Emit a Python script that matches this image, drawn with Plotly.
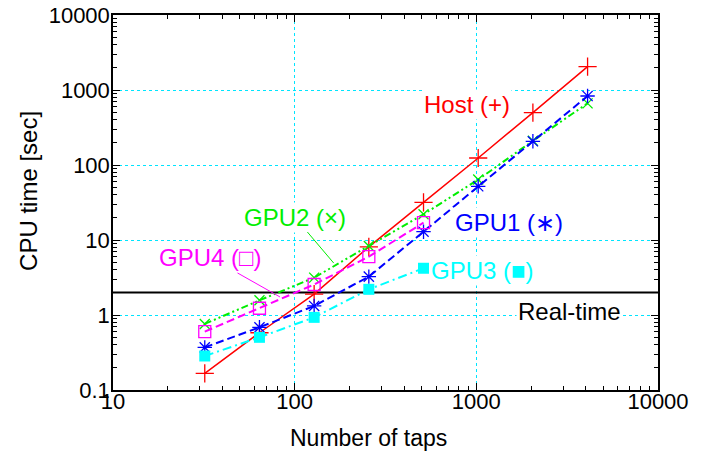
import math
import plotly.graph_objects as go

# ---- data ----
taps = [32, 64, 128, 256, 512, 1024, 2048, 4096]
host = [0.167, 0.58, 1.9, 8.1, 31.8, 124, 500, 2050]
gpu1 = [0.37, 0.685, 1.32, 3.25, 12.9, 52, 207, 832]
gpu2 = [0.76, 1.57, 3.15, 8.3, 22, 64, 210, 664]
taps_short = [32, 64, 128, 256, 512]
gpu3 = [0.284, 0.504, 0.93, 2.2, 4.2]
gpu4 = [0.6, 1.23, 2.55, 6.0, 17.0]
realtime = 2.0
x_range = [10, 10000]
y_range = [0.1, 10000]
x_ticks = [10, 100, 1000, 10000]
x_ticklabels = ["10", "100", "1000", "10000"]
y_ticks = [0.1, 1, 10, 100, 1000, 10000]
y_ticklabels = ["0.1", "1", "10", "100", "1000", "10000"]
minor_mult = [2, 3, 4, 5, 6, 7, 8, 9]

FONT = "Liberation Sans, Arial, Helvetica, sans-serif"


def minor_vals(majors):
    return [m * d for d in majors[:-1] for m in minor_mult]


fig = go.Figure()

fig.add_trace(go.Scatter(x=x_range, y=[realtime, realtime], mode="lines",
                         line=dict(color="black", width=2), showlegend=False))

fig.add_trace(go.Scatter(x=taps, y=host, mode="lines+markers",
                         line=dict(color="#ff0000", width=1.5),
                         marker=dict(symbol="cross-thin", size=13,
                                     line=dict(color="#ff0000", width=1.3)),
                         showlegend=False))
fig.add_trace(go.Scatter(x=taps, y=gpu2, mode="lines+markers",
                         line=dict(color="#00ee00", width=2,
                                   dash="7px,3px,2px,3px,2px,3px"),
                         marker=dict(symbol="x-thin", size=10,
                                     line=dict(color="#00ee00", width=1.3)),
                         showlegend=False))
fig.add_trace(go.Scatter(x=taps, y=gpu1, mode="lines+markers",
                         line=dict(color="#0000ff", width=2, dash="8px,4px"),
                         marker=dict(symbol="asterisk-open", size=12,
                                     line=dict(color="#0000ff", width=1.3)),
                         showlegend=False))
fig.add_trace(go.Scatter(x=taps_short, y=gpu4, mode="lines+markers",
                         line=dict(color="#ff00ff", width=2, dash="8px,4px"),
                         marker=dict(symbol="square-open", size=12,
                                     line=dict(color="#ff00ff", width=1.3)),
                         showlegend=False))
fig.add_trace(go.Scatter(x=taps_short, y=gpu3, mode="lines+markers",
                         line=dict(color="#00ffff", width=2,
                                   dash="9px,4px,2px,4px"),
                         marker=dict(symbol="square", size=11, color="#00ffff"),
                         showlegend=False))

ann_font = 24


def ann(text, x, y, color, **kw):
    d = dict(text=text, x=math.log10(x), y=math.log10(y), xref="x", yref="y",
             showarrow=False, font=dict(family=FONT, size=ann_font, color=color),
             bgcolor="white", borderpad=1)
    d.update(kw)
    fig.add_annotation(**d)


ann("Host (+)", 887, 650, "#ff0000")
ann("GPU1 (∗)", 1510, 16.9, "#0000ff")
ann("GPU3 (■)", 1075, 3.98, "#00ffff")
ann("Real-time", 3270, 1.13, "black")
# labels with leader lines (arrow head at the point on the curve)
ann("GPU2 (×)", 164, 4.93, "#00ee00", showarrow=True, arrowhead=0,
    arrowwidth=1, arrowcolor="#00ee00", ax=-39, ay=-46)
ann("GPU4 (□)", 83, 1.74, "#ff00ff", showarrow=True, arrowhead=0,
    arrowwidth=1, arrowcolor="#ff00ff", ax=-69, ay=-39)

# axis titles
fig.add_annotation(text="Number of taps", xref="paper", yref="paper",
                   x=0.469, y=-0.128, xanchor="center", yanchor="middle",
                   showarrow=False,
                   font=dict(family=FONT, size=23, color="black"))
fig.add_annotation(text="CPU time [sec]", xref="paper", yref="paper",
                   x=-0.154, y=0.531, xanchor="center", yanchor="middle",
                   showarrow=False, textangle=-90,
                   font=dict(family=FONT, size=24, color="black"))

axis_common = dict(type="log", showline=True, linecolor="black", linewidth=1.5,
                   mirror="allticks", ticks="inside", ticklen=7, tickwidth=1,
                   tickcolor="black", showgrid=True, gridcolor="#00e5ff",
                   griddash="dot", gridwidth=1, zeroline=False, automargin=False,
                   tickfont=dict(family=FONT, size=22, color="black"))

fig.update_xaxes(range=[math.log10(x_range[0]), math.log10(x_range[1])],
                 tickvals=x_ticks, ticktext=x_ticklabels, ticklabelstandoff=-9,
                 minor=dict(tickmode="array", tickvals=minor_vals(x_ticks),
                            ticks="inside", ticklen=4, tickcolor="black",
                            showgrid=False),
                 **axis_common)
fig.update_yaxes(range=[math.log10(y_range[0]), math.log10(y_range[1])],
                 tickvals=y_ticks, ticktext=y_ticklabels, ticklabelstandoff=-3,
                 minor=dict(tickmode="array", tickvals=minor_vals(y_ticks),
                            ticks="inside", ticklen=4, tickcolor="black",
                            showgrid=False),
                 **axis_common)

fig.update_layout(width=721, height=455, margin=dict(l=113, r=63, t=15, b=65),
                  plot_bgcolor="white", paper_bgcolor="white",
                  font=dict(family=FONT))

fig.write_html("out.html", config={"displayModeBar": False},
               post_script="document.body.style.margin='0';"
                           "document.body.style.overflow='hidden';")
